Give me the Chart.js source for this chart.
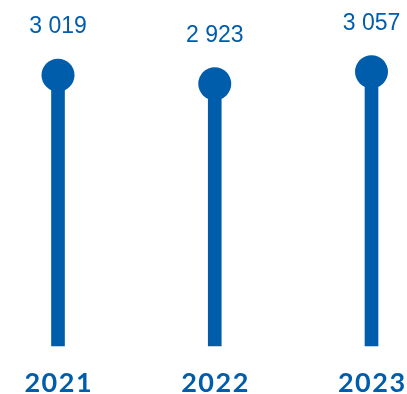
<!DOCTYPE html>
<html>
<head>
<meta charset="utf-8">
<script src="https://cdn.jsdelivr.net/npm/chart.js@4"></script>
<style>
  html, body { margin: 0; padding: 0; background: #fff; }
  #wrap { width: 407px; height: 394px; position: relative; }
</style>
</head>
<body>
<div id="wrap"><canvas id="chart"></canvas></div>
<script>
const years = ["2021", "2022", "2023"];
const values = [3019, 2923, 3057];
const valueLabels = ["3 019", "2 923", "3 057"];

const blue = "#005DAC";

const lollipopLabels = {
  id: "lollipopLabels",
  afterDatasetsDraw(chart) {
    const { ctx, scales } = chart;
    ctx.save();
    ctx.fillStyle = blue;
    ctx.textAlign = "center";
    values.forEach((v, i) => {
      const x = scales.x.getPixelForValue(i);
      const y = scales.y.getPixelForValue(v);
      ctx.letterSpacing = "0px";
      ctx.font = "400 23px 'Liberation Sans', Arial, sans-serif";
      ctx.textBaseline = "alphabetic";
      ctx.fillText(valueLabels[i], x, y - 42);
      // bold year under each stem
      ctx.letterSpacing = "1.5px";
      ctx.font = "700 27px Lato, sans-serif";
      ctx.textBaseline = "middle";
      ctx.fillText(years[i], x + 0.75, 383);
    });
    ctx.restore();
  },
};

new Chart(document.getElementById("chart"), {
  data: {
    labels: years,
    datasets: [
      {
        type: "line",
        data: values,
        showLine: false,
        pointRadius: 16.5,
        pointHoverRadius: 16.5,
        pointBackgroundColor: blue,
        pointBorderWidth: 0,
        clip: false,
      },
      {
        type: "bar",
        data: values,
        backgroundColor: blue,
        barThickness: 13,
        borderWidth: 0,
        clip: false,
      },
    ],
  },
  options: {
    responsive: true,
    maintainAspectRatio: false,
    animation: false,
    layout: { padding: { left: 58, right: 35.5, top: 32, bottom: 48 } },
    plugins: { legend: { display: false }, tooltip: { enabled: false } },
    scales: {
      x: { display: false, offset: false },
      y: { display: false, min: 0, max: 3500 },
    },
  },
  plugins: [lollipopLabels],
});
</script>
</body>
</html>
